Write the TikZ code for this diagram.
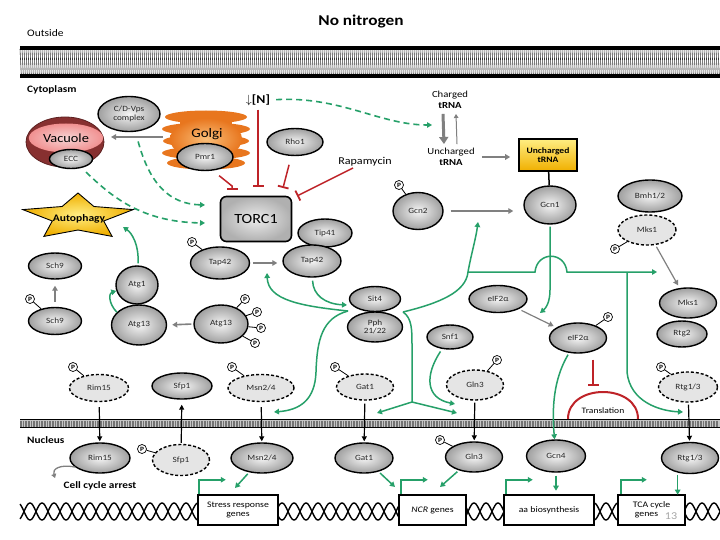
\documentclass[tikz,border=0pt]{standalone}
\usepackage{fontspec}
\setmainfont{Carlito}[FakeStretch=1.15]
\usetikzlibrary{arrows.meta,shapes.geometric}
\definecolor{grn}{RGB}{38,160,105}
\definecolor{rd}{RGB}{190,35,40}
\definecolor{arrgray}{RGB}{128,128,128}
\definecolor{vacD}{RGB}{135,48,48}
\definecolor{vacL}{RGB}{238,170,170}
\definecolor{golD}{RGB}{232,118,30}
\definecolor{golL}{RGB}{250,190,120}
\definecolor{yelD}{RGB}{240,175,0}
\definecolor{yelL}{RGB}{255,238,130}
\begin{document}
\begin{tikzpicture}[x=1pt,y=-1pt,
  wh/.style 2 args={minimum width=#1pt,minimum height=#2pt},
  lbl/.style={inner sep=0pt,align=center},
  prot/.style={ellipse,draw,line width=1.4pt,inner sep=0pt,shade,inner color=gray!8,outer color=gray!75,font=\fontsize{8}{8.5}\selectfont,text=black!85,align=center},
  protd/.style={ellipse,draw,dash pattern=on 3pt off 2pt,line width=1.4pt,inner sep=0pt,fill=gray!20,font=\fontsize{8}{8.5}\selectfont,text=black!85,align=center},
  phos/.style={circle,draw,line width=0.7pt,fill=white,inner sep=0pt,minimum size=9pt,font=\fontsize{6.5}{6.5}\selectfont\bfseries},
  plink/.style={line width=0.8pt},
  garr/.style={draw=arrgray,line width=1.6pt,-{Triangle[length=5pt,width=5.5pt]}},
  karr/.style={line width=1.2pt,-{Triangle[length=5pt,width=5pt]}},
  gar/.style={draw=grn,line width=1.5pt,-{Triangle[length=5pt,width=5.5pt]}},
  gln/.style={draw=grn,line width=1.5pt},
  gdash/.style={draw=grn,line width=1.6pt,dash pattern=on 6pt off 4pt,-{Triangle[length=5pt,width=5.5pt]}},
  inh/.style={draw=rd,line width=1.5pt,-{Bar[width=11pt,line width=1.8pt]}},
  gene/.style={draw,line width=2.5pt,fill=white,inner sep=0pt,align=center,font=\fontsize{8.5}{9.5}\selectfont}]
\useasboundingbox (0,0) rectangle (720,540);
\fill[white] (0,0) rectangle (720,540);

% ---- outer membrane
\fill[white] (20,46) rectangle (720,78);
\foreach \x in {20,22,...,718} \draw[black!80,line width=0.6pt] (\x,49) -- (\x+1.3,75);
\draw[line width=3.5pt] (20,48) -- (720,48) (20,76) -- (720,76);

% ---- nuclear membrane
\fill[gray!45] (20,419) rectangle (720,428);
\foreach \x in {20,21.6,...,719} \draw[black!55,line width=0.4pt] (\x,420.5) -- (\x,426.5);
\draw[line width=1.2pt] (20,419.5) -- (720,419.5) (20,427.5) -- (720,427.5);

% ---- DNA helix
\draw[line width=1.4pt,domain=20:720,samples=700,variable=\t] plot (\t,{511.5+8.5*sin(15*\t)});
\draw[line width=1.4pt,domain=20:720,samples=700,variable=\t] plot (\t,{511.5-8.5*sin(15*\t)});

% ---- texts
\node[lbl,anchor=west,font=\fontsize{10}{11}\selectfont] (outside) at (27,33) {Outside};
\node[lbl,font=\fontsize{15}{17}\selectfont\bfseries] (title) at (361,22) {No nitrogen};
\node[lbl,anchor=west,font=\fontsize{9.8}{11}\selectfont\bfseries] (cyto) at (27,90) {Cytoplasm};
\node[lbl,anchor=west,font=\fontsize{9.8}{12}\selectfont\bfseries] (nucl) at (27,440) {Nucleus};
\node[lbl,font=\fontsize{9.8}{10}\selectfont\bfseries] (cca) at (100,486) {Cell cycle arrest};
\node[lbl,font=\fontsize{10.5}{11}\selectfont] (rapa) at (365,162) {Rapamycin};
\node[lbl,font=\fontsize{12}{13}\selectfont] (nlbl) at (258,100) {$\downarrow$\textbf{[N]}};
\node[lbl,font=\fontsize{9.3}{11}\selectfont] (ctrna) at (450,100) {Charged\\\textbf{tRNA}};
\node[lbl,font=\fontsize{9.3}{11}\selectfont] (utrna) at (451,157) {Uncharged\\\textbf{tRNA}};

% ---- vacuole
\node[ellipse,fill=vacD,draw=vacD!70!black,line width=0.8pt,wh={78}{50}] (vac) at (65,142) {};
\node[ellipse,shade,inner color=vacL!50!white,outer color=vacL!85!red,wh={62}{29},font=\fontsize{12.5}{14}\selectfont] (vacin) at (66,138) {Vacuole};
\node[prot,wh={43}{19}] (ecc) at (71,159) {ECC};
\node[prot,wh={62}{35}] (cdvps) at (129,114) {C/D-Vps\\complex};

% ---- golgi
\foreach \yy/\rr in {117/41,129/44,141/43,153/44,163/39} {\fill[golD] (206,\yy) ellipse [x radius=\rr,y radius=6.5];}
\fill[golD] (180,118) rectangle (232,164);
\shade[inner color=golL,outer color=golD] (206,139) ellipse [x radius=36,y radius=21];
\node[lbl,font=\fontsize{13}{14}\selectfont,text=black] (golgi) at (207,134) {Golgi};
\node[prot,wh={56}{27}] (pmr1) at (205,157) {Pmr1};
\node[prot,wh={56}{27}] (rho1) at (295,142) {Rho1};
\coordinate (golgiW) at (163,137);
\coordinate (vacArr) at (111,137);

% ---- TORC1 and neighbours
\node[draw,line width=1.6pt,rounded corners=6pt,shade,inner color=gray!15,outer color=gray!62,wh={71}{45},font=\fontsize{14}{15}\selectfont] (torc1) at (256,219) {TORC1};
\node[prot,wh={54}{28}] (tip41) at (325,233) {Tip41};
\node[prot,wh={58}{32}] (tap42b) at (312,261) {Tap42};
\node[prot,wh={59}{32}] (tap42a) at (220,263) {Tap42};
\node[phos] (ptap) at (192,242) {P};
\draw[plink] (ptap) -- (tap42a);

% ---- autophagy star
\shadedraw[inner color=yelL,outer color=yelD,draw=black,line width=0.9pt] (78,193) -- (93.9,206.5) -- (133.2,209.6) -- (103.7,221) -- (112.1,236.4) -- (78,230) -- (43.9,236.4) -- (52.3,221) -- (22.8,209.6) -- (62.1,206.5) -- cycle;
\node[lbl,font=\fontsize{10}{11}\selectfont\bfseries] (autoph) at (79,219) {Autophagy};
\coordinate (autoArr) at (123,227);

\node[prot,wh={53}{26}] (sch9a) at (55,266) {Sch9};
\node[prot,wh={53}{27}] (sch9b) at (55,321) {Sch9};
\node[phos] (psch) at (30,299) {P};
\draw[plink] (psch) -- (sch9b);
\node[prot,wh={42}{38}] (atg1) at (137,285) {Atg1};
\node[prot,wh={55}{40}] (atg13a) at (139,325) {Atg13};
\node[prot,wh={54}{38}] (atg13b) at (221,324) {Atg13};
\foreach \n/\px/\py in {pa/245/299,pb/257/312,pc/261/328,pd/255/343} {\node[phos] (\n) at (\px,\py) {P}; \draw[plink] (\n) -- (atg13b);}

% ---- tRNA / Gcn
\node[draw,line width=1.6pt,shade,top color=yelL,bottom color=yelD,wh={58}{32},font=\fontsize{8.3}{9.5}\selectfont\bfseries,align=center] (ytrna) at (548,155) {Uncharged\\tRNA};
\node[prot,wh={52}{38}] (gcn1) at (550,205) {Gcn1};
\node[prot,wh={50}{37}] (gcn2) at (418,211) {Gcn2};
\node[phos] (pgcn) at (399,185) {P};
\draw[plink] (pgcn) -- (gcn2);
\node[prot,wh={64}{32}] (bmh) at (650,196) {Bmh1/2};
\node[protd,wh={58}{30}] (mks1d) at (647,230) {Mks1};
\node[phos] (pmks) at (615,249) {P};
\draw[plink] (pmks) -- (mks1d);
\node[prot,wh={50}{26}] (rtg2) at (682,334) {Rtg2};
\node[prot,wh={57}{30}] (mks1b) at (688,303) {Mks1};
\node[prot,wh={58}{27}] (eif2a) at (498,299) {eIF2α};
\node[prot,wh={57}{30}] (eif2ap) at (578,338) {eIF2α};
\node[phos] (peif) at (608,317) {P};
\draw[plink] (peif) -- (eif2ap);
\node[prot,wh={46}{24}] (snf1) at (450,337) {Snf1};
\node[prot,wh={51}{25}] (sit4) at (375,299) {Sit4};
\node[prot,wh={55}{30}] (ppk) at (375,327) {Pph\\21/22};

% ---- translation
\draw[rd,line width=2pt,fill=white] (568,419) .. controls (568,383) and (638,383) .. (638,419);
\node[lbl,font=\fontsize{8.3}{9}\selectfont] (transl) at (603,411) {Translation};
\coordinate (tT) at (593,386);

% ---- cytoplasm row
\node[protd,wh={59}{27}] (rim15c) at (99,388) {Rim15};
\node[prot,wh={60}{26}] (sfp1c) at (182,386) {Sfp1};
\node[protd,wh={66}{27}] (msn24c) at (261,388) {Msn2/4};
\node[protd,wh={57}{26}] (gat1c) at (365,387) {Gat1};
\node[protd,wh={57}{30}] (gln3c) at (475,385) {Gln3};
\node[protd,wh={59}{30}] (rtg13c) at (688,387) {Rtg1/3};
\foreach \n/\px/\py/\t in {prim/73/367/rim15c,pmsn/232/367/msn24c,pgat/335/367/gat1c,pgln/497/360/gln3c,prtg/661/367/rtg13c} {\node[phos] (\n) at (\px,\py) {P}; \draw[plink] (\n) -- (\t);}

% ---- nucleus row
\node[prot,wh={60}{30}] (rim15n) at (100,458) {Rim15};
\node[protd,wh={57}{31}] (sfp1n) at (181,460) {Sfp1};
\node[phos] (psfp) at (142,449) {P};
\draw[plink] (psfp) -- (sfp1n);
\node[prot,wh={62}{30}] (msn24n) at (262,458) {Msn2/4};
\node[prot,wh={58}{30}] (gat1n) at (364,458) {Gat1};
\node[prot,wh={57}{30}] (gln3n) at (474,457) {Gln3};
\node[phos] (pgln3n) at (440,440) {P};
\draw[plink] (pgln3n) -- (gln3n);
\node[prot,wh={59}{32}] (gcn4) at (556,456) {Gcn4};
\node[prot,wh={57}{31}] (rtg13n) at (690,458) {Rtg1/3};

% ---- gene boxes
\node[gene,wh={80}{30}] (stress) at (238,510) {Stress response\\genes};
\node[gene,wh={67}{30}] (ncr) at (432.5,510) {\textit{NCR} genes};
\node[gene,wh={90}{30}] (aa) at (549,510) {aa biosynthesis};
\node[gene,wh={67}{30}] (tca) at (651.5,510) {TCA cycle\\genes\hphantom{13}};
\node[lbl,font=\fontsize{10.5}{11}\selectfont,text=gray!70] (slide) at (671,516) {13};

% ---- gray arrows
\draw[garr] (golgiW) -- (vacArr);
\draw[garr,shorten <=3pt,shorten >=5pt] (tap42a.east) -- (tap42b.west |- tap42a.east);
\draw[garr,shorten <=7pt,shorten >=10pt] (gcn2.east) -- (gcn2.east -| gcn1.west);
\draw[garr,shorten <=2pt,shorten >=5pt] (atg13b.west) -- (atg13a.east);
\draw[garr,shorten <=5pt,shorten >=6pt] (sch9b.north) -- (sch9a.south);
\draw[garr,line width=1.2pt,shorten <=3pt,shorten >=3pt] (eif2a) -- (eif2ap);
\draw[garr,line width=1.2pt,shorten <=2pt,shorten >=3pt] (mks1d) -- (mks1b);
\draw[garr,line width=1.2pt,shorten <=7pt,shorten >=8pt] (utrna.east) -- (utrna.east -| ytrna.west);
\draw[garr,line width=3pt,-{Triangle[length=7pt,width=9pt]}] ([xshift=-7pt,yshift=-5pt]ctrna.south) -- ([xshift=-7pt,yshift=4pt]utrna.north);
\draw[garr,line width=1pt,-{Triangle[length=4pt,width=4.5pt]}] ([xshift=6pt,yshift=4pt]utrna.north) -- ([xshift=6pt,yshift=-5pt]ctrna.south);
\coordinate (ccArr) at (55,478);
\draw[garr,line width=1.3pt,-{Triangle[length=4pt,width=5pt]}] (rim15n.200) .. controls (60,464) and (52,469) .. (ccArr);
\draw[line width=1.5pt] (ytrna) -- (gcn1);

% ---- black arrows across nuclear membrane
\draw[karr,shorten <=5pt,shorten >=1pt] (rim15c) -- (rim15n);
\draw[karr,shorten <=1pt,shorten >=5pt] (sfp1n) -- (sfp1c);
\draw[karr,shorten <=5pt,shorten >=1pt] (msn24c) -- (msn24n);
\draw[karr,shorten <=3pt,shorten >=1pt] (gat1c) -- (gat1n);
\draw[karr,shorten <=2pt,shorten >=1pt] (gln3c) -- (gln3n);
\draw[karr,shorten <=2pt,shorten >=1pt] (rtg13c) -- (rtg13n);

% ---- red inhibitions
\coordinate (tN) at (258,187);
\coordinate (tP) at (232,190);
\coordinate (tR) at (283,188);
\coordinate (tRa) at (297,196);
\draw[inh] ([yshift=-4pt]nlbl.south) -- (tN);
\draw[inh,shorten <=8pt] (pmr1.-60) -- (232,186) -- (tP);
\draw[inh,shorten <=9pt] (rho1) -- (tR);
\draw[inh,shorten <=3pt] (rapa) -- (tRa);
\draw[inh,shorten <=6pt] (eif2ap.south -| tT) -- (tT);

% ---- green dashed
\coordinate (ctArr) at (432,125);
\coordinate (tA1) at (205,205);
\coordinate (tA2) at (205,223);
\draw[gdash,shorten <=6pt] (nlbl.east) .. controls (340,96) and (380,125) .. (ctArr);
\draw[gdash,shorten <=10pt] (cdvps.-70) .. controls (150,185) and (170,204) .. (tA1);
\draw[gdash,shorten <=6pt] (ecc.-40) .. controls (110,195) and (140,222) .. (tA2);

% ---- green arrows
\coordinate (jL) at (348,311);
\coordinate (jR) at (403,312);
\coordinate (jD) at (412,402);
\coordinate (jH) at (468,272);
\coordinate (gcnArr) at (478,222);
\coordinate (hop1) at (535,272);
\coordinate (hop2) at (567,272);
\coordinate (mksArr) at (657,272);
\coordinate (jV) at (627,272);
\coordinate (rtgArr) at (683,412);
\coordinate (msnArr) at (274,412);
\coordinate (gatArr) at (377,413);
\coordinate (glnArr) at (457,413);
\coordinate (glnArr2) at (455,404);
\coordinate (eifArr) at (540,313);
\coordinate (tapArr) at (267,273);
\coordinate (sitArr) at (347,305);

\draw[gar,shorten <=2pt] (atg1) .. controls (139,245) and (132,233) .. (autoArr);
\draw[gar] (atg13a.150) .. controls (108,303) and (109,293) .. (atg1);
\draw[gar,shorten <=3pt] (tap42b) .. controls (313,295) and (325,304) .. (sitArr);
\draw[gar] (jL) .. controls (300,306) and (268,300) .. (tapArr);
\draw[gar] (jL) .. controls (322,318) and (317,340) .. (316,372) .. controls (315,400) and (300,410) .. (msnArr);
\draw[gar] (jR) .. controls (440,303) and (466,292) .. (jH) .. controls (471,255) and (476,238) .. (gcnArr);
\draw[gar] (jH) -- (hop1) .. controls (537,251) and (565,251) .. (hop2) -- (mksArr);
\draw[gar] (jV) -- (627,372) .. controls (630,402) and (660,411) .. (rtgArr);
\draw[gln] (jR) .. controls (412,318) and (412,330) .. (412,345) -- (jD);
\draw[gar] (jD) -- (gatArr);
\draw[gar] (jD) -- (glnArr);
\draw[gar,shorten <=3pt] (snf1) .. controls (425,375) and (425,398) .. (glnArr2);
\draw[gar,shorten <=2pt] (gcn1.south) -- (550,290) .. controls (550,302) and (546,308) .. (eifArr);
\draw[gar,shorten <=2pt] (eif2ap) .. controls (553,380) and (552,410) .. (gcn4);

% ---- nucleus to genes
\draw[gar,shorten <=2pt] (msn24n) -- (235,488);
\draw[gar,shorten <=2pt] (gat1n) -- (395,487);
\draw[gar,shorten <=2pt] (gln3n) -- (440,487);
\draw[gar,shorten <=3pt] (gcn4.south) -- ++(0,18);
\draw[gar,shorten <=2pt] (rtg13n.230) -- ++(0,22);
\draw[gar] ([xshift=2pt]stress.north west) -- ++(0,-14) -- ++(27,0);
\draw[gar] ([xshift=3pt]ncr.north west) -- ++(0,-14) -- ++(27,0);
\draw[gar] ([xshift=3pt]aa.north west) -- ++(0,-14) -- ++(27,0);
\draw[gar] ([xshift=4pt]tca.north west) -- ++(0,-14) -- ++(26,0);
\end{tikzpicture}
\end{document}
